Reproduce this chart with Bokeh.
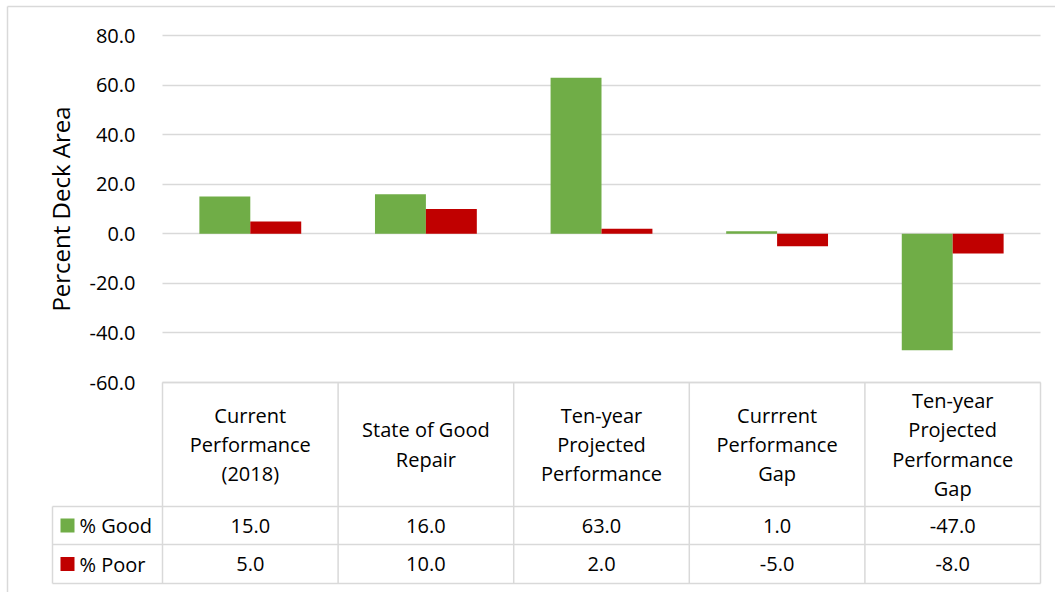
from bokeh.plotting import figure
from bokeh.models import FixedTicker, NumeralTickFormatter, Range1d
from bokeh.core.properties import value
from bokeh.embed import file_html
from bokeh.resources import INLINE

# ---------------- data ----------------
categories = [
    "Current\nPerformance\n(2018)",
    "State of Good\nRepair",
    "Ten-year\nProjected\nPerformance",
    "Currrent\nPerformance\nGap",
    "Ten-year\nProjected\nPerformance\nGap",
]
series_names = ["% Good", "% Poor"]
good = [15.0, 16.0, 63.0, 1.0, -47.0]
poor = [5.0, 10.0, 2.0, -5.0, -8.0]
y_ticks = [-60, -40, -20, 0, 20, 40, 60, 80]
y_label = "Percent Deck Area"

# ---------------- style ----------------
GREEN = "#70AD47"
RED = "#C00000"
GRID = "#D9D9D9"
TEXT = "#000000"
FONT = "Open Sans"
FS = "20px"
FS_LABEL = "24px"

# ---------------- layout (page pixels) ----------------
W, H = 1055, 592
PLOT_L, PLOT_R = 162, 1040
Y_TOP_PX, Y_BOT_PX = 35, 382
TBL_TOP, HDR_B, ROW1_B, TBL_B = 382, 506, 544, 583
LEG_L = 52
SQ_PX, LEG_TXT_PX = 67, 79
BORDER_X, BORDER_Y = 7, 6
BAR_W = 0.29

n = len(categories)
ux = (PLOT_R - PLOT_L) / n
uy = (Y_BOT_PX - Y_TOP_PX) / (max(y_ticks) - min(y_ticks))


def px_to_x(px):
    return (px - PLOT_L) / ux


def py_to_y(py):
    return max(y_ticks) - (py - Y_TOP_PX) / uy


p = figure(
    width=W, height=H,
    x_range=Range1d(px_to_x(0), px_to_x(W)),
    y_range=Range1d(py_to_y(H), py_to_y(0)),
    x_axis_location=None, y_axis_location="left",
    output_backend="svg", toolbar_location=None, tools="",
    min_border=0,
)
p.min_border_left = 0
p.min_border_right = 0
p.min_border_top = 0
p.min_border_bottom = 0
p.outline_line_color = None
p.background_fill_color = "white"
p.border_fill_color = "white"

ticker = FixedTicker(ticks=y_ticks)
ax = p.yaxis[0]
ax.fixed_location = 0
ax.bounds = (min(y_ticks), max(y_ticks))
ax.ticker = ticker
ax.formatter = NumeralTickFormatter(format="0.0")
ax.axis_line_color = None
ax.major_tick_line_color = None
ax.minor_tick_line_color = None
ax.major_label_standoff = 21
ax.major_label_text_font = FONT
ax.major_label_text_font_size = FS
ax.major_label_text_color = TEXT
ax.axis_label = y_label
ax.axis_label_text_font = FONT
ax.axis_label_text_font_size = FS_LABEL
ax.axis_label_text_font_style = "normal"
ax.axis_label_text_color = TEXT
ax.axis_label_standoff = 10

p.xgrid.visible = False
p.ygrid.ticker = ticker
p.ygrid.grid_line_color = GRID
p.ygrid.grid_line_width = 1.5
p.ygrid.cross_bounds = (0, n)

# outer chart border (left and top edges visible)
p.segment(x0=[px_to_x(BORDER_X), px_to_x(BORDER_X)],
          y0=[py_to_y(BORDER_Y), py_to_y(BORDER_Y)],
          x1=[px_to_x(BORDER_X), px_to_x(W)],
          y1=[py_to_y(H), py_to_y(BORDER_Y)],
          line_color=GRID, line_width=1.5)

# ---------------- bars ----------------
centers = [i + 0.5 for i in range(n)]
p.vbar(x=[c - BAR_W / 2 for c in centers], top=good, bottom=0, width=BAR_W,
       fill_color=GREEN, line_color=None)
p.vbar(x=[c + BAR_W / 2 for c in centers], top=poor, bottom=0, width=BAR_W,
       fill_color=RED, line_color=None)

# ---------------- data table ----------------
x0, y0, x1, y1 = [], [], [], []
x0.append(0); x1.append(n); y0.append(py_to_y(TBL_TOP)); y1.append(py_to_y(TBL_TOP))
for py in (HDR_B, ROW1_B, TBL_B):
    x0.append(px_to_x(LEG_L)); x1.append(n); y0.append(py_to_y(py)); y1.append(py_to_y(py))
x0.append(px_to_x(LEG_L)); x1.append(px_to_x(LEG_L)); y0.append(py_to_y(HDR_B)); y1.append(py_to_y(TBL_B))
for i in range(n + 1):
    x0.append(i); x1.append(i); y0.append(py_to_y(TBL_TOP)); y1.append(py_to_y(TBL_B))
p.segment(x0=x0, y0=y0, x1=x1, y1=y1, line_color=GRID, line_width=1.5)

txt = dict(text_font=value(FONT), text_font_size=FS, text_color=TEXT,
           text_baseline="middle")
p.text(x=centers, y=[py_to_y((TBL_TOP + HDR_B) / 2)] * n, text=categories,
       text_align="center", text_line_height=1.08, **txt)
row_y = [py_to_y((HDR_B + ROW1_B) / 2), py_to_y((ROW1_B + TBL_B) / 2)]
p.text(x=centers, y=[row_y[0]] * n, text=[f"{v:.1f}" for v in good],
       text_align="center", **txt)
p.text(x=centers, y=[row_y[1]] * n, text=[f"{v:.1f}" for v in poor],
       text_align="center", **txt)

# legend keys
p.scatter(x=[px_to_x(SQ_PX)] * 2, y=row_y, marker="square", size=14,
          fill_color=[GREEN, RED], line_color=None)
p.text(x=[px_to_x(LEG_TXT_PX)] * 2, y=row_y, text=series_names,
       text_align="left", **txt)

open("out.html", "w").write(file_html(p, INLINE))
